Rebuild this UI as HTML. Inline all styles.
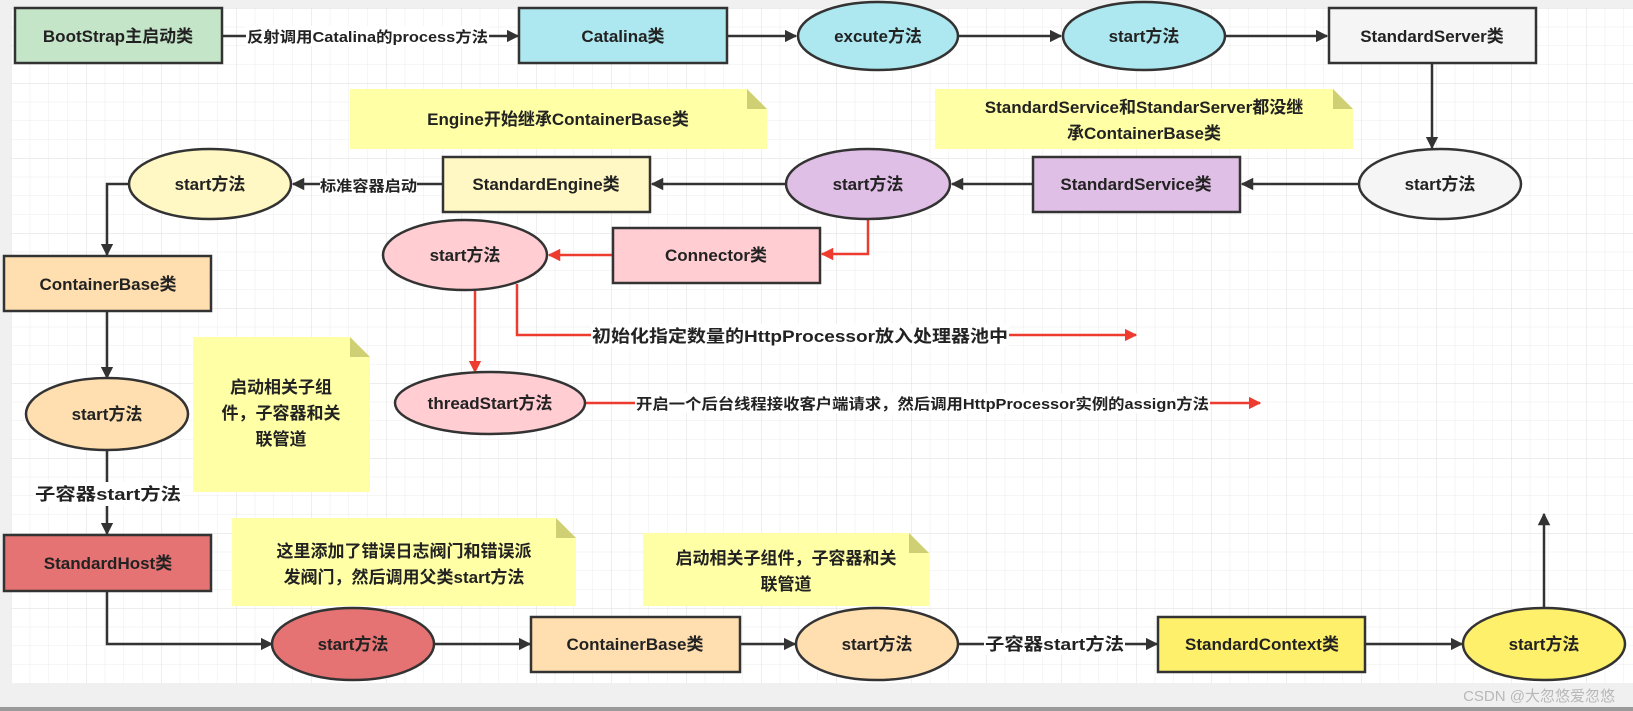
<!DOCTYPE html>
<html><head><meta charset="utf-8"><style>
html,body{margin:0;padding:0;background:#f0f0f0;}
svg{display:block;}
text{font-family:"Liberation Sans","Noto Sans CJK SC",sans-serif;font-weight:bold;fill:#222;}
</style></head><body>
<svg width="1633" height="711" viewBox="0 0 1633 711" xmlns="http://www.w3.org/2000/svg">
<defs>
<pattern id="g" x="11" y="8" width="18.75" height="18.75" patternUnits="userSpaceOnUse">
<path d="M0 0H18.75M0 0V18.75" stroke="#ececec" stroke-width="1" fill="none"/>
</pattern>
<pattern id="G" x="11" y="8" width="75" height="75" patternUnits="userSpaceOnUse">
<path d="M0 0H75M0 0V75" stroke="#e2e2e2" stroke-width="1.2" fill="none"/>
</pattern>
<marker id="a" viewBox="0 0 10 10" refX="9" refY="5" markerWidth="5" markerHeight="5" orient="auto"><path d="M0 0L10 5L0 10z" fill="#333"/></marker>
<marker id="r" viewBox="0 0 10 10" refX="9" refY="5" markerWidth="5" markerHeight="5" orient="auto"><path d="M0 0L10 5L0 10z" fill="#ee3b2f"/></marker>
</defs>
<rect x="0" y="0" width="1633" height="711" fill="#f0f0f0"/>
<rect x="11" y="8" width="1622" height="675" fill="#fff"/>
<rect x="11" y="8" width="1622" height="675" fill="url(#g)"/>
<rect x="11" y="8" width="1622" height="675" fill="url(#G)"/>
<rect x="0" y="707" width="1633" height="4" fill="#9a9a9a"/>

<g fill="#ffffa6">
<path d="M350 89H747L767 109V149H350Z"/>
<path d="M935 89H1333L1353 109V149H935Z"/>
<path d="M193 337H350L370 357V492H193Z"/>
<path d="M232 518H556L576 538V606H232Z"/>
<path d="M643 533H909L929 553V606H643Z"/>
</g>
<g fill="#cfcf73">
<path d="M747 89L767 109H747Z"/><path d="M1333 89L1353 109H1333Z"/><path d="M350 337L370 357H350Z"/><path d="M556 518L576 538H556Z"/><path d="M909 533L929 553H909Z"/>
</g>

<g stroke="#333" stroke-width="2.5" fill="none" marker-end="url(#a)">
<path d="M222 36H518"/>
<path d="M727 36H796"/>
<path d="M958 36H1061"/>
<path d="M1225 36H1327"/>
<path d="M1432 63V148"/>
<path d="M1359 184H1242"/>
<path d="M1033 184H952"/>
<path d="M786 184H652"/>
<path d="M443 184H293"/>
<path d="M129 184H107V255"/>
<path d="M107 311V378"/>
<path d="M107 450V534"/>
<path d="M107 591V644H272"/>
<path d="M434 644H530"/>
<path d="M740 644H795"/>
<path d="M959 644H1157"/>
<path d="M1365 644H1462"/>
<path d="M1544 608V514"/>
</g>
<g stroke="#ee3b2f" stroke-width="2.5" fill="none" marker-end="url(#r)">
<path d="M868 220V254H822"/>
<path d="M613 255H549"/>
<path d="M475 291V372"/>
<path d="M517 284V335H1136"/>
<path d="M585 403H1260"/>
</g>
<g fill="#fff">
<rect x="246" y="26" width="243" height="20"/>
<rect x="320" y="175" width="97" height="20"/>
<rect x="591" y="324" width="418" height="22"/>
<rect x="635" y="393" width="575" height="20"/>
<rect x="34" y="482" width="148" height="24"/>
<rect x="984" y="633" width="141" height="22"/>
</g>
<text x="247" y="42" font-size="15" textLength="241" lengthAdjust="spacingAndGlyphs">反射调用Catalina的process方法</text>
<text x="320" y="191" font-size="15" textLength="97" lengthAdjust="spacingAndGlyphs">标准容器启动</text>
<text x="592" y="342" font-size="17" textLength="416" lengthAdjust="spacingAndGlyphs">初始化指定数量的HttpProcessor放入处理器池中</text>
<text x="636" y="409" font-size="15" textLength="573" lengthAdjust="spacingAndGlyphs">开启一个后台线程接收客户端请求，然后调用HttpProcessor实例的assign方法</text>
<text x="35" y="500" font-size="17" textLength="146" lengthAdjust="spacingAndGlyphs">子容器start方法</text>
<text x="985" y="650" font-size="17" textLength="139" lengthAdjust="spacingAndGlyphs">子容器start方法</text>

<g stroke="#333" stroke-width="2.5">
<rect x="15" y="8" width="207" height="55" fill="#c5e5c9"/>
<rect x="519" y="8" width="208" height="55" fill="#ade8f0"/>
<ellipse cx="878" cy="36" rx="80" ry="34" fill="#ade8f0"/>
<ellipse cx="1144" cy="36" rx="81" ry="34" fill="#ade8f0"/>
<rect x="1329" y="8" width="207" height="55" fill="#f5f5f5"/>
<ellipse cx="1440" cy="184" rx="81" ry="35" fill="#f5f5f5"/>
<rect x="1033" y="157" width="207" height="55" fill="#e0bfe6"/>
<ellipse cx="868" cy="184" rx="82" ry="35" fill="#e0bfe6"/>
<rect x="443" y="157" width="207" height="55" fill="#fff8c4"/>
<ellipse cx="210" cy="184" rx="81" ry="35" fill="#fff8c4"/>
<rect x="613" y="228" width="207" height="55" fill="#ffcdd2"/>
<ellipse cx="465" cy="255" rx="82" ry="35" fill="#ffcdd2"/>
<ellipse cx="490" cy="403" rx="95" ry="31" fill="#ffcdd2"/>
<rect x="4" y="256" width="207" height="55" fill="#ffdfb0"/>
<ellipse cx="107" cy="414" rx="81" ry="36" fill="#ffdfb0"/>
<rect x="4" y="535" width="207" height="56" fill="#e57373"/>
<ellipse cx="353" cy="644" rx="81" ry="36" fill="#e57373"/>
<rect x="531" y="617" width="209" height="55" fill="#ffdfb0"/>
<ellipse cx="877" cy="644" rx="81" ry="36" fill="#ffdfb0"/>
<rect x="1158" y="617" width="207" height="55" fill="#fff06b"/>
<ellipse cx="1544" cy="644" rx="81" ry="36" fill="#fff06b"/>
</g>

<g font-size="17" text-anchor="middle">
<text x="118" y="42">BootStrap主启动类</text>
<text x="623" y="42">Catalina类</text>
<text x="878" y="42">excute方法</text>
<text x="1144" y="42">start方法</text>
<text x="1432" y="42">StandardServer类</text>
<text x="558" y="125">Engine开始继承ContainerBase类</text>
<text x="1144" y="113">StandardService和StandarServer都没继</text>
<text x="1144" y="139">承ContainerBase类</text>
<text x="1440" y="190">start方法</text>
<text x="1136" y="190">StandardService类</text>
<text x="868" y="190">start方法</text>
<text x="546" y="190">StandardEngine类</text>
<text x="210" y="190">start方法</text>
<text x="716" y="261">Connector类</text>
<text x="465" y="261">start方法</text>
<text x="490" y="409">threadStart方法</text>
<text x="108" y="290">ContainerBase类</text>
<text x="107" y="420">start方法</text>
<text x="281" y="393">启动相关子组</text>
<text x="281" y="419">件，子容器和关</text>
<text x="281" y="445">联管道</text>
<text x="108" y="569">StandardHost类</text>
<text x="404" y="557">这里添加了错误日志阀门和错误派</text>
<text x="404" y="583">发阀门，然后调用父类start方法</text>
<text x="786" y="564">启动相关子组件，子容器和关</text>
<text x="786" y="590">联管道</text>
<text x="353" y="650">start方法</text>
<text x="635" y="650">ContainerBase类</text>
<text x="877" y="650">start方法</text>
<text x="1262" y="650">StandardContext类</text>
<text x="1544" y="650">start方法</text>
</g>
<text x="1615" y="701" font-size="15" text-anchor="end" style="font-weight:normal;fill:#b8b8b8">CSDN @大忽悠爱忽悠</text>
</svg>
</body></html>
